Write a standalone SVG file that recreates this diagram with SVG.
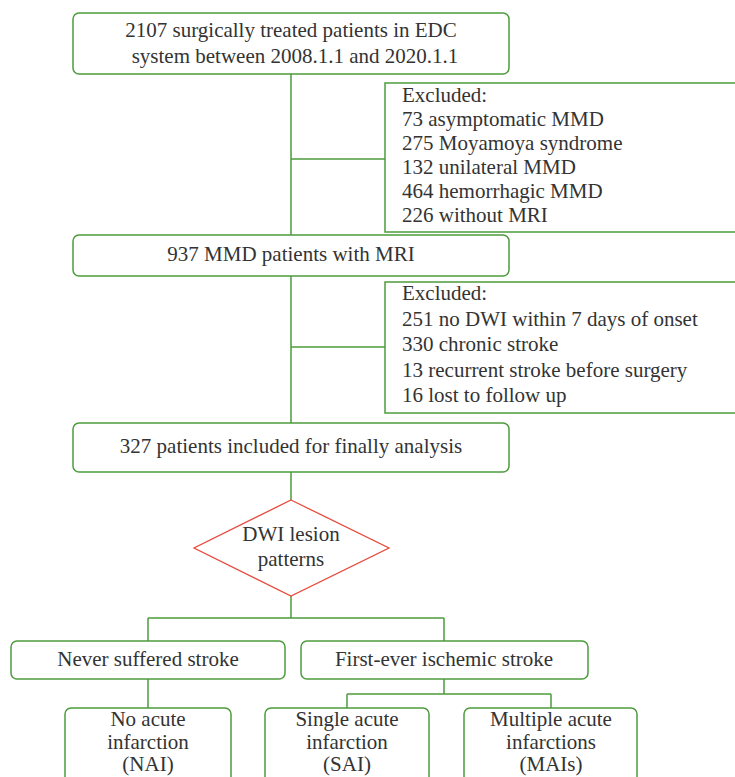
<svg xmlns="http://www.w3.org/2000/svg" width="735" height="777" viewBox="0 0 735 777">
<style>
.box{fill:#fff;stroke:#4c9c3c;stroke-width:1.5}
.ln{fill:none;stroke:#4c9c3c;stroke-width:1.5}
.dia{fill:#fff;stroke:#e84a3c;stroke-width:1.3}
text{font-family:"Liberation Serif","Times New Roman",serif;font-size:21px;fill:#333}
.c{text-anchor:middle}
</style>
<rect width="735" height="777" fill="#fff"/>
<g id="connectors">
<path class="ln" d="M291 74V235M291 159H385M291 276V423M291 347H385M291 472V500M291 596V618M148 618H444M148 618V641M444 618V641M148 679V708M444 679V694M347 694H551M347 694V708M551 694V708"/>
</g>
<g id="n1"><rect class="box" x="73" y="13" width="436" height="61" rx="6"/>
<text class="c" x="291" y="37">2107 surgically treated patients in EDC</text>
<text class="c" x="295" y="63">system between 2008.1.1 and 2020.1.1</text></g>
<g id="ex1"><rect class="box" x="385" y="83" width="360" height="149"/>
<text x="402" y="102">Excluded:</text>
<text x="402" y="126">73 asymptomatic MMD</text>
<text x="402" y="150">275 Moyamoya syndrome</text>
<text x="402" y="174">132 unilateral MMD</text>
<text x="402" y="198">464 hemorrhagic MMD</text>
<text x="402" y="222">226 without MRI</text></g>
<g id="n2"><rect class="box" x="73" y="235" width="436" height="41" rx="6"/>
<text class="c" x="291" y="261">937 MMD patients with MRI</text></g>
<g id="ex2"><rect class="box" x="385" y="282" width="360" height="131"/>
<text x="402" y="300">Excluded:</text>
<text x="402" y="325.5">251 no DWI within 7 days of onset</text>
<text x="402" y="351">330 chronic stroke</text>
<text x="402" y="376.5">13 recurrent stroke before surgery</text>
<text x="402" y="402">16 lost to follow up</text></g>
<g id="n3"><rect class="box" x="73" y="423" width="436" height="49" rx="6"/>
<text class="c" x="291" y="453">327 patients included for finally analysis</text></g>
<g id="dwi"><polygon class="dia" points="291,500 389,548 291,596 194,548"/>
<text class="c" x="291" y="541">DWI lesion</text>
<text class="c" x="291" y="566">patterns</text></g>
<g id="never"><rect class="box" x="11" y="641" width="274" height="38" rx="6"/>
<text class="c" x="148" y="666">Never suffered stroke</text></g>
<g id="first"><rect class="box" x="301" y="641" width="287" height="38" rx="6"/>
<text class="c" x="444" y="666">First-ever ischemic stroke</text></g>
<g id="nai"><rect class="box" x="65" y="708" width="166" height="90" rx="6"/>
<text class="c" x="148" y="726">No acute</text>
<text class="c" x="148" y="749">infarction</text>
<text class="c" x="148" y="771">(NAI)</text></g>
<g id="sai"><rect class="box" x="265" y="708" width="164" height="90" rx="6"/>
<text class="c" x="347" y="726">Single acute</text>
<text class="c" x="347" y="749">infarction</text>
<text class="c" x="347" y="771">(SAI)</text></g>
<g id="mai"><rect class="box" x="464" y="708" width="173" height="90" rx="6"/>
<text class="c" x="551" y="726">Multiple acute</text>
<text class="c" x="551" y="749">infarctions</text>
<text class="c" x="551" y="771">(MAIs)</text></g>
</svg>
